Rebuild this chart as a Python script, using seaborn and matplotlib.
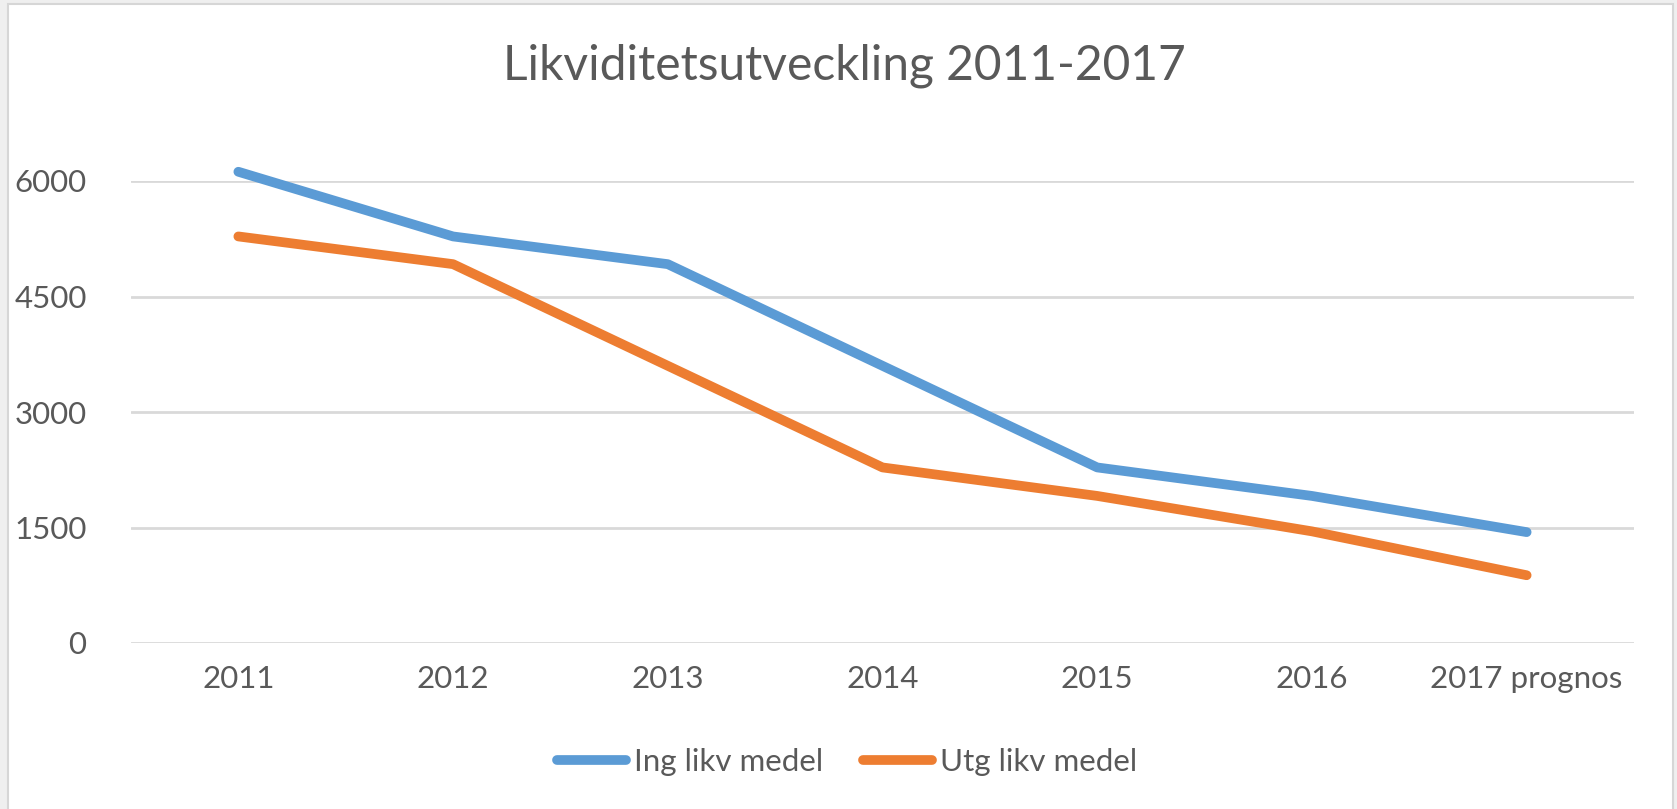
import pandas as pd
import matplotlib.pyplot as plt
import matplotlib.patches as patches
from matplotlib.lines import Line2D
import seaborn as sns

# Data
years = ['2011', '2012', '2013', '2014', '2015', '2016', '2017 prognos']
ing_likv = [6120, 5280, 4920, 3600, 2280, 1910, 1440]
utg_likv = [5280, 4920, 3600, 2280, 1910, 1450, 880]
series_names = ['Ing likv medel', 'Utg likv medel']
colors = ['#5B9BD5', '#ED7D31']

df = pd.DataFrame({
    'year': years * 2,
    'value': ing_likv + utg_likv,
    'series': [series_names[0]] * len(years) + [series_names[1]] * len(years),
})

sns.set_theme(style='white')
plt.rcParams['font.family'] = ['Lato', 'DejaVu Sans']
text_color = '#595959'

fig = plt.figure(figsize=(16.77, 8.09), dpi=100)
fig.patch.set_facecolor('#efefef')

# white chart area with thin gray frame (screenshot look)
frame = patches.Rectangle((8 / 1677, -0.01), 1665 / 1677, 1.01 - 4 / 809,
                          transform=fig.transFigure, facecolor='white',
                          edgecolor='#d6d6d6', linewidth=1.5, zorder=-10)
fig.patches.append(frame)

ax = fig.add_axes([131 / 1677, 1 - 643 / 809, 1503 / 1677, (643 - 181) / 809])
ax.set_zorder(1)
ax.set_facecolor('none')

sns.lineplot(data=df, x='year', y='value', hue='series', palette=colors,
             linewidth=7, ax=ax, sort=False, legend=False,
             solid_capstyle='round', solid_joinstyle='round', clip_on=False)

ax.set_ylim(0, 6000)
ax.set_xlim(-0.5, len(years) - 0.5)
ax.set_yticks([0, 1500, 3000, 4500, 6000])
ax.grid(axis='y', color='#d9d9d9', linewidth=2)
ax.set_axisbelow(True)
for s in ax.spines.values():
    s.set_visible(False)
ax.tick_params(axis='both', length=0, labelsize=22.5, labelcolor=text_color)
ax.tick_params(axis='y', pad=32)
ax.tick_params(axis='x', pad=16)
ax.set_xlabel('')
ax.set_ylabel('')

fig.text(844 / 1677, 1 - 66 / 809, 'Likviditetsutveckling 2011-2017', ha='center',
         va='center', fontsize=34.5, color=text_color)

handles = [Line2D([0], [0], color=c, linewidth=7, solid_capstyle='round')
           for c in colors]
fig.legend(handles, series_names, loc='center', ncol=2, frameon=False,
           bbox_to_anchor=(847 / 1677, 1 - 762 / 809), fontsize=22.5,
           labelcolor=text_color, handlelength=2.2, handletextpad=0.25,
           columnspacing=1.3)

fig.savefig('out.png', dpi=100, facecolor=fig.get_facecolor())
